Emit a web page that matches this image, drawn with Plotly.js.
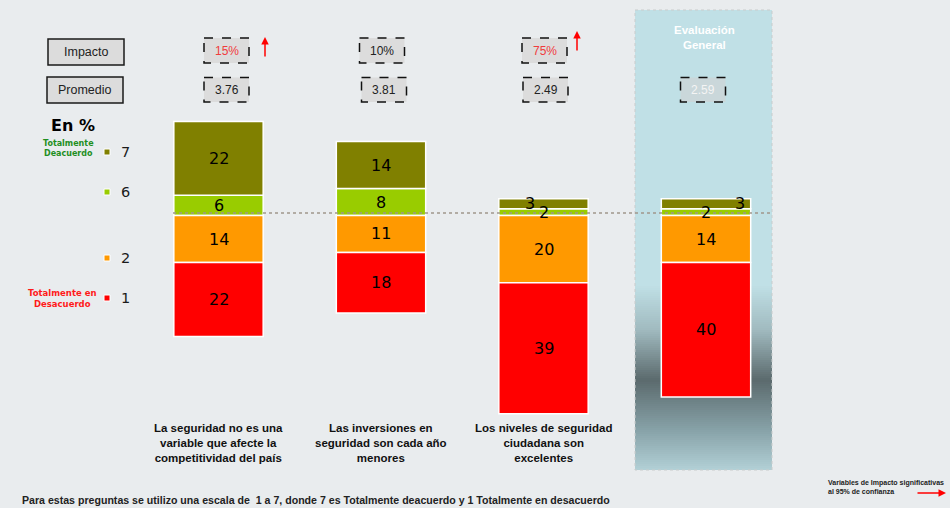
<!DOCTYPE html>
<html><head><meta charset="utf-8">
<script src="https://cdn.plot.ly/plotly-3.0.1.min.js"></script>
<style>html,body{margin:0;padding:0;background:#e9ecee;overflow:hidden}#chart{width:950px;height:508px}</style>
</head><body><div id="chart"></div>
<script>
// ---------- DATA ----------
const categories = [
  'La seguridad no es una<br>variable que afecte la<br>competitividad del país',
  'Las inversiones en<br>seguridad son cada año<br>menores',
  'Los niveles de seguridad<br>ciudadana son<br>excelentes',
  'Evaluación<br>General'
];
const scaleNames = ['7', '6', '2', '1'];
const val7 = [22, 14, 3, 3];
const val6 = [6, 8, 2, 2];
const val2 = [14, 11, 20, 14];
const val1 = [22, 18, 39, 40];
const impacto = ['15%', '10%', '75%', ''];
const impactoSignificativo = [true, false, true, false];
const promedio = ['3.76', '3.81', '2.49', '2.59'];
const footnote = 'Para estas preguntas se utilizo una escala de  1 a 7, donde 7 es Totalmente deacuerdo y 1 Totalmente en desacuerdo';

// ---------- STYLE / LAYOUT ----------
const W = 950, H = 508;
const BG = '#e9ecee';
const colors = {'7': '#808000', '6': '#99cc00', '2': '#ff9900', '1': '#ff0000'};
const xCenter0 = 218.5, xStep = 162.5, yBase = 215.5, yScale = 3.36;
const xRange = [-xCenter0 / xStep, (W - xCenter0) / xStep];
const yRange = [-(H - yBase) / yScale, yBase / yScale];
const px = x => x / W;
const py = y => 1 - y / H;
const xs = categories.map((c, i) => i);

const shapes = [];
const annotations = [];
function note(o) {
  annotations.push(Object.assign({xref: 'paper', yref: 'paper', xanchor: 'center', yanchor: 'middle', showarrow: false}, o));
}

// Evaluación General panel with vertical gradient (drawn below bars)
const panel = {x0: 635, x1: 772, y0: 10, y1: 470};
const stops = [[10, [192, 224, 230]], [285, [192, 224, 230]], [330, [160, 186, 191]], [380, [91, 106, 109]], [430, [135, 162, 168]], [470, [178, 208, 214]]];
function gradColor(y) {
  for (let k = 0; k < stops.length - 1; k++) {
    const [ya, ca] = stops[k], [yb, cb] = stops[k + 1];
    if (y >= ya && y <= yb) {
      const t = (y - ya) / (yb - ya);
      return 'rgb(' + ca.map((c, j) => Math.round(c + (cb[j] - c) * t)).join(',') + ')';
    }
  }
  return 'rgb(178,208,214)';
}
for (let y = panel.y0; y < panel.y1; y += 2) {
  shapes.push({type: 'rect', xref: 'paper', yref: 'paper', layer: 'below',
    x0: px(panel.x0), x1: px(panel.x1), y0: py(y), y1: py(Math.min(y + 2.6, panel.y1)),
    fillcolor: gradColor(y + 1), line: {width: 0}});
}
shapes.push({type: 'rect', xref: 'paper', yref: 'paper', layer: 'below',
  x0: px(panel.x0), x1: px(panel.x1), y0: py(panel.y0), y1: py(panel.y1),
  fillcolor: 'rgba(0,0,0,0)', line: {color: '#c9cccc', width: 1, dash: 'dot'}});
note({x: px(704), y: py(37.5), text: '<b>' + categories[3] + '</b>',
  font: {family: 'Arial, Liberation Sans', size: 11.5, color: '#ffffff'}});

// Dotted reference line
shapes.push({type: 'line', xref: 'paper', yref: 'paper', layer: 'above', x0: px(173), x1: px(773), y0: py(213), y1: py(213),
  line: {color: '#a0968c', width: 1.5, dash: 'dot'}});

// Header boxes
function solidBox(x0, x1, y0, y1, label) {
  shapes.push({type: 'rect', xref: 'paper', yref: 'paper', x0: px(x0), x1: px(x1), y0: py(y0), y1: py(y1),
    fillcolor: '#dcdcdc', line: {color: '#1a1a1a', width: 1.5}});
  note({x: px((x0 + x1) / 2), y: py((y0 + y1) / 2), text: label,
    font: {family: 'Arial, Liberation Sans', size: 12.5, color: '#222'}});
}
solidBox(48, 124, 39, 65, 'Impacto');
solidBox(47, 123, 77, 103, 'Promedio');

const impBoxX = [226.5, 382, 544.5];
const promBoxX = [226.5, 384, 545.5, 703];
const arrowX = [265, null, 577];
const arrowTip = [37, null, 31];
function dashBox(cx, y0, y1, label, fill, txtColor) {
  shapes.push({type: 'rect', xref: 'paper', yref: 'paper', x0: px(cx - 22.5), x1: px(cx + 22.5), y0: py(y0), y1: py(y1),
    fillcolor: fill, line: {color: '#111', width: 1.5, dash: 'dash'}});
  note({x: px(cx), y: py((y0 + y1) / 2), text: label,
    font: {family: 'Arial, Liberation Sans', size: 12, color: txtColor}});
}
impacto.forEach((v, i) => {
  if (!v) return;
  dashBox(impBoxX[i], 38, 63, v, '#dcdcdc', impactoSignificativo[i] ? '#f03c3c' : '#222');
  if (impactoSignificativo[i]) {
    annotations.push({xref: 'paper', yref: 'paper', x: px(arrowX[i]), y: py(arrowTip[i]), ax: 0, ay: 21,
      text: '', showarrow: true, arrowhead: 2, arrowsize: 1, arrowwidth: 1.5, arrowcolor: '#ff0000'});
  }
});
promedio.forEach((v, i) => {
  const inPanel = i === 3;
  dashBox(promBoxX[i], 77.5, 102, v, inPanel ? 'rgba(205,212,214,0.75)' : '#dcdcdc', inPanel ? '#f4f4f4' : '#222');
});

// Left scale legend
note({x: px(73), y: py(125), text: '<b>En %</b>', font: {family: 'DejaVu Sans', size: 16, color: '#000'}});
const legendY = {'7': 152, '6': 192, '2': 258, '1': 298};
scaleNames.forEach(n => {
  const y = legendY[n];
  shapes.push({type: 'rect', xref: 'paper', yref: 'paper', x0: px(104), x1: px(110), y0: py(y - 3), y1: py(y + 3),
    fillcolor: colors[n], line: {color: '#ffffff', width: 1}});
  note({x: px(125), y: py(y), text: n, font: {family: 'DejaVu Sans', size: 14.5, color: '#1a1a1a'}});
});
note({x: px(68), y: py(149), text: '<b>Totalmente<br>Deacuerdo</b>',
  font: {family: 'DejaVu Sans', size: 8, color: '#1f8f1f'}});
note({x: px(62), y: py(298), text: '<b>Totalmente en<br>Desacuerdo</b>',
  font: {family: 'DejaVu Sans', size: 8.5, color: '#ff1a1a'}});

// Bar value labels
const smallShift7 = [0, 0, -14, 34];
const valFont = {family: 'DejaVu Sans', size: 16, color: '#000'};
xs.forEach(i => {
  const segs = [
    [val6[i] / 2, val6[i], 0],
    [val6[i] + val7[i] / 2, val7[i], val7[i] < 5 ? smallShift7[i] : 0],
    [-val2[i] / 2, val2[i], 0],
    [-val2[i] - val1[i] / 2, val1[i], 0]
  ];
  segs.forEach(([y, v, sh]) => {
    annotations.push({xref: 'x', yref: 'y', x: i, y: y, xanchor: 'center', yanchor: 'middle',
      text: String(v), showarrow: false, xshift: sh, font: valFont});
  });
});

// Category labels
xs.slice(0, 3).forEach(i => {
  annotations.push({xref: 'x', yref: 'paper', x: i, y: py(420), xanchor: 'center', yanchor: 'top',
    text: '<b>' + categories[i] + '</b>', showarrow: false,
    font: {family: 'Arial, Liberation Sans', size: 11.5, color: '#111'}});
});

// Footnote and significance note
note({x: px(20), y: py(499.5), xanchor: 'left', text: '<b>' + footnote + '</b>',
  font: {family: 'Arial, Liberation Sans', size: 10.6, color: '#222'}});
note({x: px(826), y: py(486.5), xanchor: 'left', align: 'left',
  text: '<b>Variables de Impacto significativas<br>al 95% de confianza</b>',
  font: {family: 'Arial, Liberation Sans', size: 7, color: '#222'}});
annotations.push({xref: 'paper', yref: 'paper', x: px(946), y: py(493), ax: -30, ay: 0, text: '', showarrow: true,
  arrowhead: 2, arrowsize: 1, arrowwidth: 1.5, arrowcolor: '#ff0000'});

// ---------- TRACES ----------
const barLine = {color: '#ffffff', width: 1.5};
const traces = [
  {name: '6', y: val6},
  {name: '7', y: val7},
  {name: '2', y: val2.map(v => -v)},
  {name: '1', y: val1.map(v => -v)}
].map(t => ({type: 'bar', x: xs, y: t.y, name: t.name, width: 0.55,
  marker: {color: colors[t.name], line: barLine}, hoverinfo: 'skip', textposition: 'none'}));

const layout = {
  width: W, height: H,
  margin: {l: 0, r: 0, t: 0, b: 0, pad: 0},
  paper_bgcolor: BG, plot_bgcolor: BG,
  barmode: 'relative',
  showlegend: false,
  xaxis: {range: xRange, visible: false, fixedrange: true},
  yaxis: {range: yRange, visible: false, fixedrange: true},
  shapes: shapes,
  annotations: annotations
};
Plotly.newPlot('chart', traces, layout, {staticPlot: true, displayModeBar: false});
</script>
</body></html>
